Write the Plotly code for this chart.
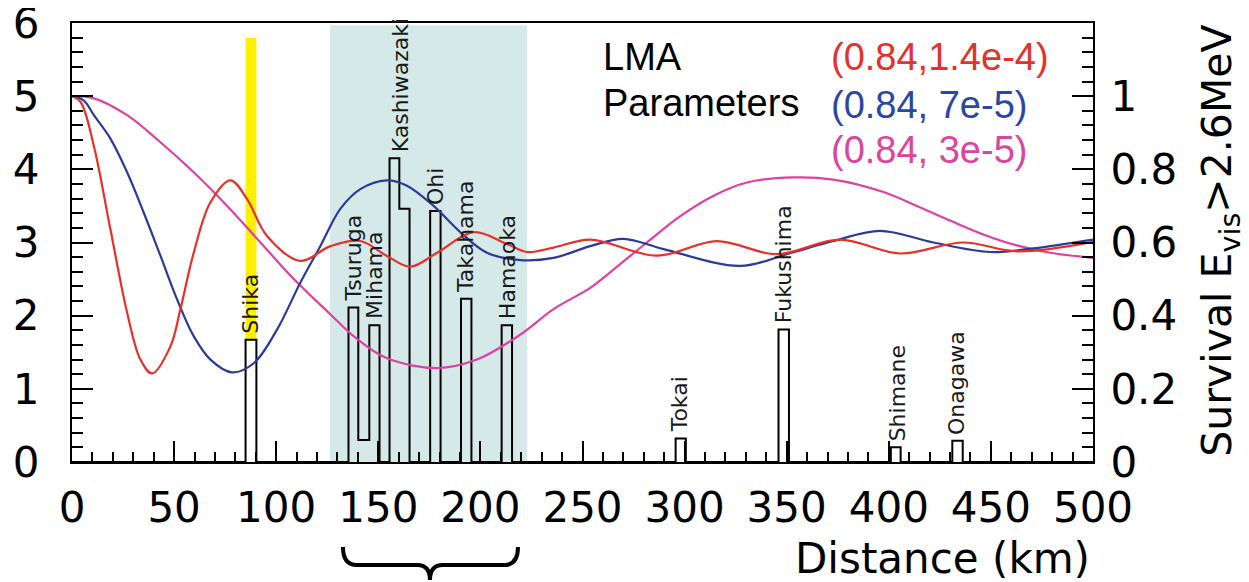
import plotly.graph_objects as go

# ---------------- data ----------------
# survival-probability curves (distance in km, survival fraction)
red_km = [0, 4.2, 10.7, 18.8, 27, 33.5, 39.2, 48.2, 53.1, 59.6, 67.8, 77.6, 85.8, 95.5,
          111.8, 126.5, 141.2, 154, 165.7, 178.8, 196.7, 213, 222.8, 235.8, 253.8,
          286.4, 315.8, 345.2, 376, 405.5, 436.5, 462.7, 500]
red_surv = [1.0, 0.984, 0.864, 0.636, 0.408, 0.28, 0.242, 0.316, 0.418, 0.572, 0.71, 0.77,
            0.718, 0.618, 0.55, 0.59, 0.604, 0.564, 0.534, 0.572, 0.628, 0.596, 0.574,
            0.586, 0.608, 0.564, 0.604, 0.568, 0.608, 0.57, 0.6, 0.576, 0.602]

blue_km = [0, 5.8, 10.7, 18.8, 27, 35.1, 43.3, 51.5, 59.6, 67.8, 78.4, 89, 100.4, 111.8,
           121.6, 131.4, 141.2, 154, 163.8, 177.1, 190.2, 203.2, 219.5, 235.8, 253.8,
           270.1, 289.7, 327.2, 350.1, 372.9, 395.7, 421.8, 449.6, 470.8, 500]
blue_surv = [1.0, 0.988, 0.948, 0.884, 0.792, 0.682, 0.564, 0.444, 0.344, 0.28, 0.245, 0.27,
             0.362, 0.49, 0.59, 0.692, 0.746, 0.77, 0.756, 0.70, 0.628, 0.572, 0.552, 0.558,
             0.59, 0.61, 0.582, 0.536, 0.568, 0.604, 0.632, 0.60, 0.574, 0.584, 0.608]

mag_km = [0, 10.7, 27, 43.3, 59.6, 76, 92.3, 108.6, 126.5, 137.9, 154, 178.8, 198.3, 219.5,
          235.8, 253.8, 265.2, 281.5, 297.9, 314.2, 330.5, 353.3, 372.9, 397.4, 413.7, 430,
          446.3, 462.7, 479, 500]
mag_surv = [1.0, 0.994, 0.948, 0.874, 0.792, 0.70, 0.60, 0.50, 0.404, 0.344, 0.284, 0.257,
            0.28, 0.348, 0.418, 0.476, 0.526, 0.60, 0.672, 0.728, 0.764, 0.778, 0.772, 0.738,
            0.70, 0.66, 0.622, 0.592, 0.572, 0.558]

# reactor flux histogram (left axis): bin edges (km) and heights
bin_lo = [85.0, 135.4, 140.2, 145.6, 155.5, 160.3, 175.4, 190.5, 210.4, 295.6, 346.0, 401.0, 431.1]
bin_hi = [90.3, 140.2, 145.6, 150.6, 160.3, 165.3, 180.5, 195.6, 215.5, 300.6, 351.1, 405.8, 436.2]
bin_h = [1.67, 2.11, 0.30, 1.87, 4.15, 3.46, 3.43, 2.23, 1.87, 0.32, 1.81, 0.20, 0.29]

# reactor site labels
stations = ["Shika", "Tsuruga", "Mihama", "Kashiwazaki", "Ohi", "Takahama", "Hamaoka",
            "Tokai", "Fukushima", "Shimane", "Onagawa"]
label_km = [87.6, 137.8, 148.0, 160.6, 178.0, 193.0, 213.0, 297.6, 348.5, 404.0, 433.5]
label_h = [1.67, 2.11, 1.87, 4.15, 3.43, 2.23, 1.87, 0.32, 1.81, 0.20, 0.29]

# highlighted ranges
shade_range = [126.3, 222.8]
yellow_range = [85.0, 90.3]
yellow_top = 5.80

x_ticks = [0, 50, 100, 150, 200, 250, 300, 350, 400, 450, 500]
y_ticks = [0, 1, 2, 3, 4, 5, 6]
y2_ticks = [0, 0.2, 0.4, 0.6, 0.8, 1.0]
y2_text = ["0", "0.2", "0.4", "0.6", "0.8", "1"]

legend_lines = [("(0.84,1.4e-4)", "#e5302c"), ("(0.84, 7e-5)", "#2a46a6"), ("(0.84, 3e-5)", "#dc44a0")]

RED, BLUE, MAG = "#e8302a", "#2b3b9c", "#e040a2"
FONT = "DejaVu Sans"

# ---------------- build the step outline of the histogram ----------------
hx, hy = [0], [0]
for i in range(len(bin_lo)):
    hx.append(bin_lo[i]); hy.append(bin_h[i])
    nxt_contig = i + 1 < len(bin_lo) and abs(bin_lo[i + 1] - bin_hi[i]) < 1e-6
    if not nxt_contig:
        hx.append(bin_hi[i]); hy.append(0)
hx.append(500); hy.append(0)

fig = go.Figure()

fig.add_trace(go.Scatter(x=hx, y=hy, mode="lines", line=dict(color="black", width=2, shape="hv"),
                         hoverinfo="skip", showlegend=False))

for xs, ys, col in [(mag_km, mag_surv, MAG), (blue_km, blue_surv, BLUE), (red_km, red_surv, RED)]:
    fig.add_trace(go.Scatter(x=xs, y=ys, mode="lines", yaxis="y2",
                             line=dict(color=col, width=2.2, shape="spline", smoothing=1.0),
                             showlegend=False))

shapes = [
    dict(type="rect", xref="x", yref="y", x0=shade_range[0], x1=shade_range[1], y0=0, y1=5.97,
         fillcolor="#d5e9e8", line=dict(width=0), layer="below"),
    dict(type="rect", xref="x", yref="y", x0=yellow_range[0], x1=yellow_range[1],
         y0=bin_h[0], y1=yellow_top, fillcolor="#fff000", line=dict(width=0), layer="below"),
    # curly brace under 150-200 km
    dict(type="path", xref="paper", yref="paper",
         path="M 0.2654,-0.1936 Q 0.2654,-0.2346 0.2790,-0.2346 L 0.3380,-0.2346 "
              "Q 0.3506,-0.2346 0.3506,-0.2688 Q 0.3506,-0.2346 0.3632,-0.2346 "
              "L 0.4232,-0.2346 Q 0.4368,-0.2346 0.4368,-0.1936",
         line=dict(color="black", width=4)),
]

annotations = []
for name, lx, lh in zip(stations, label_km, label_h):
    annotations.append(dict(x=lx, y=lh, xref="x", yref="y", text=name, textangle=-90,
                            showarrow=False, xanchor="center", yanchor="bottom", yshift=4,
                            font=dict(family=FONT, size=22, color="#1a1a1a")))

annotations.append(dict(x=0.999, y=-0.219, xref="paper", yref="paper", text="Distance (km)",
                        showarrow=False, xanchor="right", yanchor="middle",
                        font=dict(family=FONT, size=42, color="black")))
annotations.append(dict(x=1.125, y=0.503, xref="paper", yref="paper",
                        text="Survival E<sub>vis</sub>>2.6MeV", textangle=-90,
                        showarrow=False, xanchor="center", yanchor="middle",
                        font=dict(family=FONT, size=41, color="black")))
annotations.append(dict(x=0.518, y=0.9226, xref="paper", yref="paper", text="LMA",
                        showarrow=False, xanchor="left", yanchor="middle",
                        font=dict(family="Liberation Sans", size=38, color="black")))
annotations.append(dict(x=0.518, y=0.818, xref="paper", yref="paper", text="Parameters",
                        showarrow=False, xanchor="left", yanchor="middle",
                        font=dict(family="Liberation Sans", size=38, color="black")))
for (txt, col), yy in zip(legend_lines, [0.9226, 0.813, 0.711]):
    annotations.append(dict(x=0.741, y=yy, xref="paper", yref="paper", text=txt,
                            showarrow=False, xanchor="left", yanchor="middle",
                            font=dict(family="Liberation Sans", size=38, color=col)))

axis_common = dict(showline=True, linecolor="black", linewidth=2, ticks="inside",
                   tickcolor="black", tickwidth=2, showgrid=False, zeroline=False,
                   automargin=False, ticklabeloverflow="allow")

# the page body adds an 8px offset, so the figure is 8px smaller and margins shifted
fig.update_layout(
    width=1241, height=574,
    margin=dict(l=64, r=156, t=15, b=120, autoexpand=False),
    paper_bgcolor="white", plot_bgcolor="white",
    showlegend=False,
    xaxis=dict(range=[0, 500], tickmode="array", tickvals=x_ticks, mirror=True, ticklen=21,
               minor=dict(dtick=10, tick0=0, ticks="inside", ticklen=10, tickwidth=2, tickcolor="black"),
               tickfont=dict(family=FONT, size=42, color="black"), ticklabelstandoff=8,
               **axis_common),
    yaxis=dict(range=[0, 6], tickmode="array", tickvals=y_ticks, ticklen=21,
               minor=dict(dtick=0.2, tick0=0, ticks="inside", ticklen=11, tickwidth=2, tickcolor="black"),
               tickfont=dict(family=FONT, size=42, color="black"), ticklabelstandoff=22,
               **axis_common),
    yaxis2=dict(range=[0, 1.2], overlaying="y", side="right", tickmode="array",
                tickvals=y2_ticks, ticktext=y2_text, ticklen=21,
                minor=dict(dtick=0.04, tick0=0, ticks="inside", ticklen=11, tickwidth=2, tickcolor="black"),
                tickfont=dict(family=FONT, size=42, color="black"), ticklabelstandoff=7,
                **axis_common),
    shapes=shapes,
    annotations=annotations,
)

fig.write_html("out.html")
